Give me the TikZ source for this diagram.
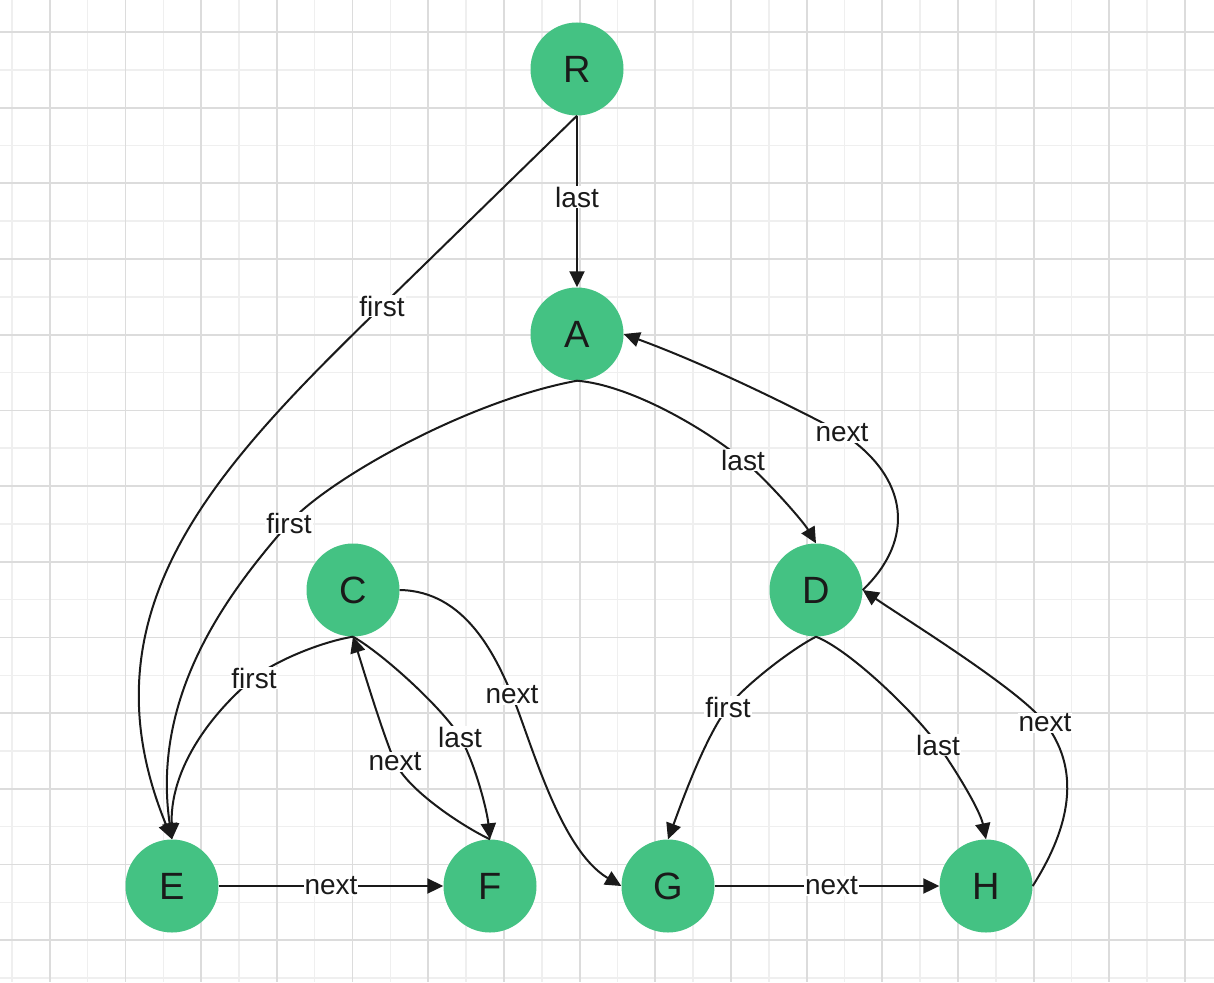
\documentclass[tikz,border=0pt]{standalone}
\usepackage{fontspec}
\setmainfont{Liberation Sans}[Ligatures=NoCommon]
\usetikzlibrary{arrows.meta}
\definecolor{vgreen}{HTML}{44C283}
\definecolor{ink}{HTML}{1A1A1A}
\definecolor{gridlight}{HTML}{EFEFEF}
\definecolor{griddark}{HTML}{DCDCDC}
\begin{document}
\begin{tikzpicture}[x=1pt,y=-1pt,
  vtx/.style={circle,fill=vgreen,draw=none,minimum size=93pt,inner sep=0pt,
    text=ink,font=\fontsize{38}{40}\selectfont},
  edge/.style={draw=ink,line width=2pt,-{Triangle[length=16pt,width=15pt]}},
  lab/.style={fill=white,inner xsep=1pt,inner ysep=1pt,text=ink,
    font=\fontsize{28}{30}\selectfont}]
\useasboundingbox (0,0) rectangle (1214,982);
\fill[white] (0,0) rectangle (1214,982);
% grid
\foreach \k in {0,2,...,30} {\pgfmathsetmacro\xx{12+37.84*\k}
  \draw[gridlight,line width=1.5pt] (\xx,0) -- (\xx,982);}
\foreach \k in {1,3,...,25} {\pgfmathsetmacro\yy{32+37.84*\k}
  \draw[gridlight,line width=1.5pt] (0,\yy) -- (1214,\yy);}
\foreach \k in {1,3,...,31} {\pgfmathsetmacro\xx{12+37.84*\k}
  \draw[griddark,line width=1.8pt] (\xx,0) -- (\xx,982);}
\foreach \k in {0,2,...,24} {\pgfmathsetmacro\yy{32+37.84*\k}
  \draw[griddark,line width=1.8pt] (0,\yy) -- (1214,\yy);}
% nodes
\node[vtx] (R) at (577,69) {R};
\node[vtx] (A) at (577,334) {A};
\node[vtx] (C) at (353,590) {C};
\node[vtx] (D) at (816,590) {D};
\node[vtx] (E) at (172,886) {E};
\node[vtx] (F) at (490,886) {F};
\node[vtx] (G) at (668,886) {G};
\node[vtx] (H) at (986,886) {H};
% edges
\draw[edge] (R) -- node[lab,pos=0.475]{last} (A);
\draw[edge] (R.south) -- (382,306) node[lab]{first}
  .. controls (217,467) and (78,610) .. (E.north);
\draw[edge] (A.south) .. controls (467,401) and (329,479) .. (289,523) node[lab]{first}
  .. controls (235,585) and (150,690) .. (E.north);
\draw[edge] (A.south) .. controls (630,385) and (704,428) .. (743,460) node[lab]{last}
  .. controls (766,479) and (803,521) .. (D.north);
\draw[edge] (D.east) .. controls (915,540) and (910,478) .. (842,433) node[lab]{next}
  .. controls (780,400) and (700,362) .. (A.east);
\draw[edge] (C.south) .. controls (320,642) and (273,662) .. (254,678) node[lab]{first}
  .. controls (223,703) and (170,760) .. (E.north);
\draw[edge] (C.south) .. controls (385,655) and (445,711) .. (460,737) node[lab]{last}
  .. controls (475,763) and (487,810) .. (F.north);
\draw[edge] (F.north) .. controls (460,825) and (407,789) .. (395,762) node[lab]{next}
  .. controls (383,735) and (361,662) .. (C.south);
\draw[edge] (C.east) .. controls (465,591) and (495,655) .. (512,695) node[lab]{next}
  .. controls (531,741) and (560,850) .. (G.west);
\draw[edge] (D.south) .. controls (790,650) and (743,687) .. (728,707) node[lab]{first}
  .. controls (704,739) and (680,807) .. (G.north);
\draw[edge] (D.south) .. controls (850,650) and (915,713) .. (938,745) node[lab]{last}
  .. controls (955,769) and (980,810) .. (H.north);
\draw[edge] (H.east) .. controls (1065,835) and (1085,775) .. (1045,723) node[lab]{next}
  .. controls (1021,691) and (913,624) .. (D.east);
\draw[edge] (E) -- node[lab]{next} (F);
\draw[edge] (G) -- node[lab,pos=0.52]{next} (H);
\end{tikzpicture}
\end{document}
